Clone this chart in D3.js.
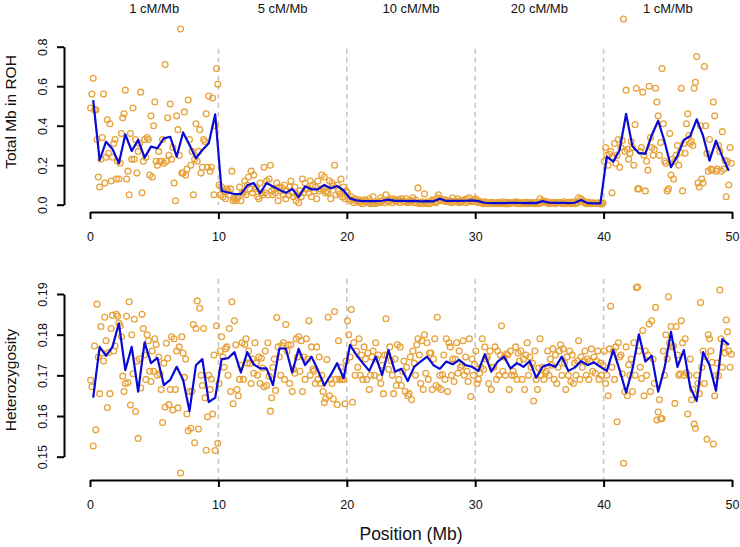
<!DOCTYPE html>
<html>
<head>
<meta charset="utf-8">
<script src="https://cdn.jsdelivr.net/npm/d3@7"></script>
<style>
  body { margin: 0; background: #fff; }
  svg { display: block; font-family: "Liberation Sans", Arial, sans-serif; }
</style>
</head>
<body>
<svg id="chart" width="740" height="547"></svg>
<script>
// recombination rate of each 10 Mb block
var rateLabels = ["1 cM/Mb", "5 cM/Mb", "10 cM/Mb", "20 cM/Mb", "1 cM/Mb"];
var blockStarts = [0, 10, 20, 30, 40];
var boundaries = [10, 20, 30, 40];
var xTicks = [0, 10, 20, 30, 40, 50];
var rohTicks = [0, 0.2, 0.4, 0.6, 0.8];
var hetTicks = [0.15, 0.16, 0.17, 0.18, 0.19];
var windowMb = 0.1;   // one point per 100 kb window
var meanBinMb = 0.5;  // blue line = mean per 500 kb

// Total Mb in ROH, one value per window
var rohPts0to10 = [
  0.49, 0.56, 0.64, 0.48, 0.48, 0.33, 0.14, 0.09, 0.23, 0.34,
  0.56, 0.11, 0.24, 0.43, 0.26, 0.41, 0.12, 0.24, 0.31, 0.33,
  0.13, 0.22, 0.13, 0.21, 0.36, 0.44, 0.46, 0.58, 0.13, 0.17,
  0.05, 0.36, 0.23, 0.49, 0.23, 0.33, 0.16, 0.27, 0.31, 0.57,
  0.06, 0.22, 0.33, 0.24, 0.34, 0.33, 0.15, 0.45, 0.14, 0.40,
  0.52, 0.22, 0.20, 0.27, 0.22, 0.22, 0.33, 0.21, 0.71, 0.22,
  0.44, 0.25, 0.51, 0.23, 0.29, 0.11, 0.02, 0.45, 0.38, 0.25,
  0.89, 0.16, 0.16, 0.47, 0.15, 0.18, 0.53, 0.33, 0.20, 0.27,
  0.05, 0.23, 0.41, 0.22, 0.27, 0.38, 0.16, 0.19, 0.33, 0.32,
  0.46, 0.19, 0.55, 0.17, 0.19, 0.54, 0.05, 0.40, 0.69, 0.61];
var rohPts10to20 = [
  0.10, 0.05, 0.09, 0.04, 0.07, 0.03, 0.08, 0.07, 0.05, 0.08,
  0.17, 0.02, 0.03, 0.02, 0.03, 0.04, 0.09, 0.02, 0.06, 0.06,
  0.12, 0.05, 0.10, 0.14, 0.08, 0.17, 0.06, 0.15, 0.08, 0.09,
  0.04, 0.03, 0.11, 0.06, 0.05, 0.19, 0.06, 0.12, 0.05, 0.13,
  0.20, 0.07, 0.05, 0.08, 0.06, 0.11, 0.02, 0.09, 0.07, 0.085,
  0.05, 0.10, 0.03, 0.07, 0.05, 0.09, 0.12, 0.06, 0.04, 0.09,
  0.02, 0.05, 0.01, 0.07, 0.04, 0.13, 0.06, 0.11, 0.08, 0.08,
  0.06, 0.12, 0.04, 0.10, 0.07, 0.09, 0.03, 0.12, 0.07, 0.08,
  0.15, 0.08, 0.14, 0.06, 0.07, 0.06, 0.12, 0.03, 0.11, 0.095,
  0.20, 0.05, 0.10, 0.07, 0.055, 0.13, 0.04, 0.09, 0.03, 0.07];
var rohPts20to30 = [
  0.06, 0.03, 0.02, 0.04, 0.025, 0.01, 0.03, 0.02, 0.015, 0.025,
  0.01, 0.02, 0.005, 0.025, 0.015, 0.02, 0.01, 0.03, 0.005, 0.01,
  0.04, 0.005, 0.015, 0.01, 0.01, 0.01, 0.035, 0.02, 0.025, 0.01,
  0.05, 0.02, 0.015, 0.03, 0.025, 0.01, 0.03, 0.02, 0.015, 0.025,
  0.025, 0.01, 0.03, 0.02, 0.015, 0.015, 0.03, 0.01, 0.02, 0.015,
  0.02, 0.035, 0.01, 0.025, 0.01, 0.085, 0.005, 0.01, 0.015, 0.005,
  0.055, 0.01, 0.015, 0.005, 0.005, 0.01, 0.025, 0.02, 0.015, 0.01,
  0.035, 0.05, 0.03, 0.02, 0.025, 0.02, 0.025, 0.015, 0.02, 0.015,
  0.02, 0.01, 0.035, 0.015, 0.02, 0.015, 0.03, 0.01, 0.02, 0.015,
  0.02, 0.025, 0.01, 0.03, 0.015, 0.035, 0.015, 0.02, 0.025, 0.015];
var rohPts30to40 = [
  0.030, 0.020, 0.010, 0.015, 0.015, 0.010, 0.005, 0.015, 0.010, 0.010,
  0.005, 0.010, 0.012, 0.005, 0.008, 0.010, 0.005, 0.008, 0.012, 0.005,
  0.008, 0.015, 0.005, 0.010, 0.004, 0.012, 0.005, 0.010, 0.008, 0.010,
  0.010, 0.015, 0.005, 0.012, 0.008, 0.005, 0.010, 0.008, 0.012, 0.005,
  0.012, 0.008, 0.005, 0.010, 0.010, 0.008, 0.005, 0.012, 0.010, 0.005,
  0.030, 0.010, 0.020, 0.015, 0.015, 0.010, 0.015, 0.005, 0.010, 0.010,
  0.008, 0.012, 0.005, 0.010, 0.010, 0.012, 0.008, 0.010, 0.005, 0.015,
  0.005, 0.010, 0.008, 0.012, 0.005, 0.010, 0.015, 0.005, 0.010, 0.010,
  0.035, 0.020, 0.030, 0.015, 0.020, 0.008, 0.005, 0.010, 0.012, 0.005,
  0.005, 0.010, 0.008, 0.005, 0.007, 0.010, 0.005, 0.008, 0.003, 0.009];
var rohPts40to50 = [
  0.22, 0.29, 0.25, 0.20, 0.255, 0.27, 0.06, 0.24, 0.31, 0.21,
  0.25, 0.33, 0.19, 0.29, 0.325, 0.94, 0.27, 0.58, 0.28, 0.23,
  0.26, 0.32, 0.29, 0.20, 0.405, 0.59, 0.08, 0.08, 0.27, 0.29,
  0.57, 0.25, 0.07, 0.22, 0.175, 0.60, 0.34, 0.29, 0.25, 0.28,
  0.59, 0.52, 0.45, 0.25, 0.315, 0.69, 0.41, 0.22, 0.21, 0.07,
  0.08, 0.36, 0.15, 0.23, 0.13, 0.22, 0.25, 0.30, 0.20, 0.265,
  0.59, 0.07, 0.31, 0.26, 0.41, 0.46, 0.35, 0.31, 0.32, 0.30,
  0.59, 0.62, 0.75, 0.11, 0.09, 0.40, 0.13, 0.11, 0.70, 0.40,
  0.26, 0.17, 0.33, 0.18, 0.175, 0.52, 0.45, 0.17, 0.18, 0.30,
  0.27, 0.17, 0.37, 0.18, 0.225, 0.04, 0.22, 0.10, 0.29, 0.21];

// ROH mean per 500 kb
var rohMean0to10 = [0.53, 0.226, 0.319, 0.282, 0.21, 0.356, 0.272, 0.328, 0.238, 0.294,
  0.286, 0.336, 0.344, 0.243, 0.366, 0.302, 0.235, 0.277, 0.311, 0.458];
var rohMean10to20 = [0.07, 0.062, 0.054, 0.054, 0.098, 0.11, 0.058, 0.11, 0.092, 0.075,
  0.06, 0.08, 0.038, 0.092, 0.078, 0.078, 0.1, 0.083, 0.095, 0.072];
var rohMean20to30 = [0.032, 0.022, 0.018, 0.018, 0.018, 0.02, 0.026, 0.019, 0.02, 0.018,
  0.019, 0.017, 0.018, 0.017, 0.03, 0.019, 0.02, 0.019, 0.02, 0.022];
var rohMean30to40 = [0.018, 0.01, 0.008, 0.008, 0.008, 0.009, 0.01, 0.008, 0.009, 0.008,
  0.018, 0.01, 0.009, 0.01, 0.008, 0.01, 0.024, 0.008, 0.007, 0.007];
var rohMean40to50 = [0.243, 0.218, 0.277, 0.46, 0.295, 0.262, 0.257, 0.352, 0.425, 0.32,
  0.19, 0.247, 0.328, 0.348, 0.432, 0.348, 0.223, 0.324, 0.243, 0.172];

// Heterozygosity, one value per window
var hetPts0to10 = [
  0.1688, 0.1672, 0.1526, 0.1772, 0.1566, 0.1875, 0.1745, 0.1655, 0.1820, 0.1755,
  0.1735, 0.1843, 0.1785, 0.1621, 0.1756, 0.1655, 0.1815, 0.1848, 0.1760, 0.1772,
  0.1850, 0.1845, 0.1828, 0.1822, 0.1795, 0.1698, 0.1660, 0.1680, 0.1845, 0.1682,
  0.1881, 0.1627, 0.1800, 0.1704, 0.1838, 0.1611, 0.1735, 0.1545, 0.1740, 0.1669,
  0.1850, 0.1815, 0.1750, 0.1690, 0.1800, 0.1785, 0.1710, 0.1685, 0.1760, 0.1710,
  0.1790, 0.1776, 0.1700, 0.1745, 0.1704, 0.1665, 0.1584, 0.1730, 0.1622, 0.1779,
  0.1742, 0.1628, 0.1665, 0.1795, 0.1615, 0.1790, 0.1665, 0.1760, 0.1620, 0.1770,
  0.1460, 0.1795, 0.1755, 0.1695, 0.1740, 0.1605, 0.1564, 0.1660, 0.1570, 0.1661,
  0.1825, 0.1534, 0.1815, 0.1883, 0.1568, 0.1865, 0.1700, 0.1675, 0.1815, 0.1645,
  0.1516, 0.1598, 0.1700, 0.1665, 0.1691, 0.1605, 0.1750, 0.1515, 0.1822, 0.1533];
var hetPts10to20 = [
  0.1680, 0.1760, 0.1795, 0.1745, 0.1720, 0.1765, 0.1770, 0.1700, 0.1815, 0.1660,
  0.1881, 0.1630, 0.1834, 0.1775, 0.1665, 0.1650, 0.1690, 0.1725, 0.1780, 0.1690,
  0.1776, 0.1790, 0.1730, 0.1760, 0.1729, 0.1680, 0.1740, 0.1705, 0.1780, 0.1730,
  0.1700, 0.1745, 0.1680, 0.1742, 0.1718, 0.1672, 0.1760, 0.1675, 0.1780, 0.1698,
  0.1612, 0.1645, 0.1720, 0.1740, 0.1663, 0.1842, 0.1770, 0.1745, 0.1700, 0.1773,
  0.1780, 0.1690, 0.1825, 0.1760, 0.1775, 0.1680, 0.1775, 0.1660, 0.1715, 0.1705,
  0.1790, 0.1745, 0.1795, 0.1710, 0.1785, 0.1660, 0.1745, 0.1690, 0.1790, 0.1740,
  0.1834, 0.1700, 0.1770, 0.1715, 0.1711, 0.1680, 0.1770, 0.1690, 0.1745, 0.1680,
  0.1700, 0.1660, 0.1633, 0.1643, 0.1739, 0.1843, 0.1650, 0.1690, 0.1680, 0.1642,
  0.1857, 0.1690, 0.1628, 0.1785, 0.1690, 0.1720, 0.1690, 0.1690, 0.1630, 0.1735];
var hetPts20to30 = [
  0.1834, 0.1800, 0.1745, 0.1862, 0.1634, 0.1780, 0.1700, 0.1760, 0.1720, 0.1790,
  0.1700, 0.1750, 0.1690, 0.1770, 0.1740, 0.1690, 0.1755, 0.1665, 0.1700, 0.1745,
  0.1760, 0.1700, 0.1780, 0.1740, 0.1750, 0.1695, 0.1680, 0.1725, 0.1655, 0.1750,
  0.1839, 0.1750, 0.1715, 0.1770, 0.1736, 0.1700, 0.1655, 0.1740, 0.1675, 0.1775,
  0.1690, 0.1770, 0.1675, 0.1710, 0.1735, 0.1660, 0.1720, 0.1650, 0.1655, 0.1745,
  0.1640, 0.1760, 0.1730, 0.1700, 0.1775, 0.1790, 0.1750, 0.1680, 0.1785, 0.1665,
  0.1800, 0.1705, 0.1780, 0.1690, 0.1755, 0.1755, 0.1665, 0.1740, 0.1790, 0.1675,
  0.1843, 0.1670, 0.1700, 0.1665, 0.1702, 0.1750, 0.1690, 0.1790, 0.1660, 0.1780,
  0.1770, 0.1700, 0.1740, 0.1685, 0.1740, 0.1780, 0.1705, 0.1760, 0.1720, 0.1725,
  0.1785, 0.1700, 0.1745, 0.1710, 0.1685, 0.1790, 0.1648, 0.1740, 0.1700, 0.1727];
var hetPts30to40 = [
  0.1760, 0.1680, 0.1690, 0.1705, 0.1720, 0.1790, 0.1715, 0.1770, 0.1740, 0.1745,
  0.1680, 0.1760, 0.1665, 0.1720, 0.1720, 0.1770, 0.1690, 0.1760, 0.1700, 0.1750,
  0.1822, 0.1710, 0.1745, 0.1700, 0.1753, 0.1750, 0.1665, 0.1760, 0.1700, 0.1710,
  0.1700, 0.1770, 0.1690, 0.1755, 0.1735, 0.1760, 0.1690, 0.1740, 0.1665, 0.1750,
  0.1780, 0.1700, 0.1745, 0.1720, 0.1730, 0.1637, 0.1760, 0.1690, 0.1665, 0.1718,
  0.1790, 0.1700, 0.1720, 0.1690, 0.1705, 0.1710, 0.1760, 0.1700, 0.1740, 0.1725,
  0.1765, 0.1690, 0.1750, 0.1680, 0.1720, 0.1760, 0.1775, 0.1700, 0.1765, 0.1730,
  0.1665, 0.1745, 0.1700, 0.1760, 0.1685, 0.1750, 0.1680, 0.1730, 0.1700, 0.1735,
  0.1785, 0.1690, 0.1745, 0.1720, 0.1735, 0.1760, 0.1700, 0.1740, 0.1690, 0.1735,
  0.1765, 0.1710, 0.1745, 0.1705, 0.1735, 0.1760, 0.1690, 0.1730, 0.1700, 0.1725];
var hetPts40to50 = [
  0.1760, 0.1680, 0.1700, 0.1650, 0.1765, 0.1870, 0.1720, 0.1760, 0.1690, 0.1770,
  0.1586, 0.1780, 0.1745, 0.1750, 0.1704, 0.1484, 0.1660, 0.1770, 0.1650, 0.1726,
  0.1700, 0.1740, 0.1660, 0.1780, 0.1700, 0.1916, 0.1917, 0.1760, 0.1720, 0.1692,
  0.1810, 0.1650, 0.1760, 0.1700, 0.1750, 0.1826, 0.1660, 0.1834, 0.1740, 0.1680,
  0.1867, 0.1590, 0.1610, 0.1640, 0.1593, 0.1594, 0.1760, 0.1700, 0.1800, 0.1741,
  0.1893, 0.1780, 0.1820, 0.1770, 0.1772, 0.1631, 0.1820, 0.1750, 0.1700, 0.1704,
  0.1834, 0.1780, 0.1700, 0.1790, 0.1706, 0.1605, 0.1700, 0.1740, 0.1640, 0.1665,
  0.1580, 0.1570, 0.1700, 0.1680, 0.1655, 0.1879, 0.1720, 0.1760, 0.1680, 0.1746,
  0.1543, 0.1800, 0.1790, 0.1760, 0.1732, 0.1531, 0.1650, 0.1700, 0.1730, 0.1699,
  0.1910, 0.1790, 0.1720, 0.1770, 0.1755, 0.1836, 0.1807, 0.1760, 0.1720, 0.1752];

// heterozygosity mean per 500 kb
var hetMean0to10 = [0.1645, 0.177, 0.1748, 0.177, 0.1828, 0.1713, 0.177, 0.166, 0.1781, 0.173,
  0.1743, 0.1676, 0.1689, 0.1721, 0.1689, 0.1612, 0.1725, 0.174, 0.1634, 0.1645];
var hetMean10to20 = [0.174, 0.1742, 0.1757, 0.1707, 0.1757, 0.1727, 0.1717, 0.1717, 0.1676, 0.1766,
  0.1766, 0.1707, 0.1765, 0.1725, 0.1746, 0.1713, 0.1675, 0.1701, 0.173, 0.1693];
var hetMean20to30 = [0.1775, 0.175, 0.173, 0.1711, 0.1746, 0.1701, 0.1762, 0.1709, 0.1716, 0.1686,
  0.1721, 0.1734, 0.1746, 0.1725, 0.1716, 0.1734, 0.1727, 0.1738, 0.1725, 0.1721];
var hetMean30to40 = [0.1711, 0.1752, 0.1709, 0.1734, 0.1746, 0.1717, 0.173, 0.1721, 0.1735, 0.1694,
  0.1721, 0.1727, 0.1721, 0.1746, 0.1711, 0.1719, 0.1735, 0.1725, 0.1732, 0.1721];
var hetMean40to50 = [0.1711, 0.1762, 0.1713, 0.1658, 0.1716, 0.1801, 0.1734, 0.1748, 0.166, 0.1719,
  0.1807, 0.1721, 0.1762, 0.167, 0.1637, 0.1757, 0.1725, 0.1662, 0.1789, 0.1775];

var rohPts = [rohPts0to10, rohPts10to20, rohPts20to30, rohPts30to40, rohPts40to50];
var rohMeans = [rohMean0to10, rohMean10to20, rohMean20to30, rohMean30to40, rohMean40to50];
var hetPts = [hetPts0to10, hetPts10to20, hetPts20to30, hetPts30to40, hetPts40to50];
var hetMeans = [hetMean0to10, hetMean10to20, hetMean20to30, hetMean30to40, hetMean40to50];

// turn per-block arrays into {pos, val} using window index
function toXY(blocks, step) {
  var out = [];
  blocks.forEach(function(arr, j) {
    arr.forEach(function(v, i) {
      out.push({pos: blockStarts[j] + (i + 0.5) * step, val: v});
    });
  });
  return out;
}

var svg = d3.select("#chart");

var x = d3.scaleLinear().domain([0, 50]).range([90, 732]);

var panels = [
  {y: d3.scaleLinear().domain([0, 0.8]).range([204.7, 46.7]),
   pts: toXY(rohPts, windowMb), means: toXY(rohMeans, meanBinMb),
   ticks: rohTicks, fmt: ".1f", xAxisY: 212, guide: [0, 0.79],
   title: "Total Mb in ROH", titleY: 112},
  {y: d3.scaleLinear().domain([0.15, 0.19]).range([456.7, 294]),
   pts: toXY(hetPts, windowMb), means: toXY(hetMeans, meanBinMb),
   ticks: hetTicks, fmt: ".2f", xAxisY: 480, guide: [0.1443, 0.1937],
   title: "Heterozygosity", titleY: 380}
];

panels.forEach(function(p) {
  var g = svg.append("g");

  // dashed block boundaries
  g.selectAll("line.guide").data(boundaries).join("line")
      .attr("class", "guide")
      .attr("x1", function(d) { return x(d); })
      .attr("x2", function(d) { return x(d); })
      .attr("y1", p.y(p.guide[1]))
      .attr("y2", p.y(p.guide[0]))
      .attr("stroke", "#c4c4c4")
      .attr("stroke-width", 1.5)
      .attr("stroke-dasharray", "5,4");

  g.selectAll("circle").data(p.pts).join("circle")
      .attr("cx", function(d) { return x(d.pos); })
      .attr("cy", function(d) { return p.y(d.val); })
      .attr("r", 2.9)
      .attr("fill", "none")
      .attr("stroke", "#E8A23A")
      .attr("stroke-width", 1.3);

  var line = d3.line()
      .x(function(d) { return x(d.pos); })
      .y(function(d) { return p.y(d.val); });

  g.append("path")
      .datum(p.means)
      .attr("d", line)
      .attr("fill", "none")
      .attr("stroke", "#0a0ad2")
      .attr("stroke-width", 2.2)
      .attr("stroke-linejoin", "round");

  var xa = g.append("g")
      .attr("transform", "translate(0," + p.xAxisY + ")")
      .call(d3.axisBottom(x).tickValues(xTicks).tickSize(7).tickSizeOuter(0).tickPadding(13));

  var ya = g.append("g")
      .attr("transform", "translate(64,0)")
      .call(d3.axisLeft(p.y).tickValues(p.ticks).tickSize(7).tickSizeOuter(0)
        .tickFormat(d3.format(p.fmt)));

  ya.selectAll("text")
      .attr("transform", "rotate(-90)")
      .attr("x", 0)
      .attr("y", -17)
      .attr("dy", 0)
      .attr("text-anchor", "middle");

  [xa, ya].forEach(function(a) {
    a.attr("font-family", null).attr("font-size", 12.5);
    a.selectAll("path, line").attr("stroke", "#000").attr("stroke-width", 2);
    a.selectAll("text").attr("fill", "#111");
  });

  svg.append("text")
      .attr("transform", "translate(16," + p.titleY + ") rotate(-90)")
      .attr("text-anchor", "middle")
      .attr("font-size", 15.5)
      .attr("fill", "#111")
      .text(p.title);
});

// block labels along the top
svg.selectAll("text.rate").data(rateLabels).join("text")
    .attr("class", "rate")
    .attr("x", function(d, i) { return x(blockStarts[i] + 5); })
    .attr("y", 13)
    .attr("text-anchor", "middle")
    .attr("font-size", 13)
    .attr("fill", "#111")
    .text(function(d) { return d; });

svg.append("text")
    .attr("x", x(25))
    .attr("y", 540)
    .attr("text-anchor", "middle")
    .attr("font-size", 17.5)
    .attr("fill", "#111")
    .text("Position (Mb)");
</script>
</body>
</html>
